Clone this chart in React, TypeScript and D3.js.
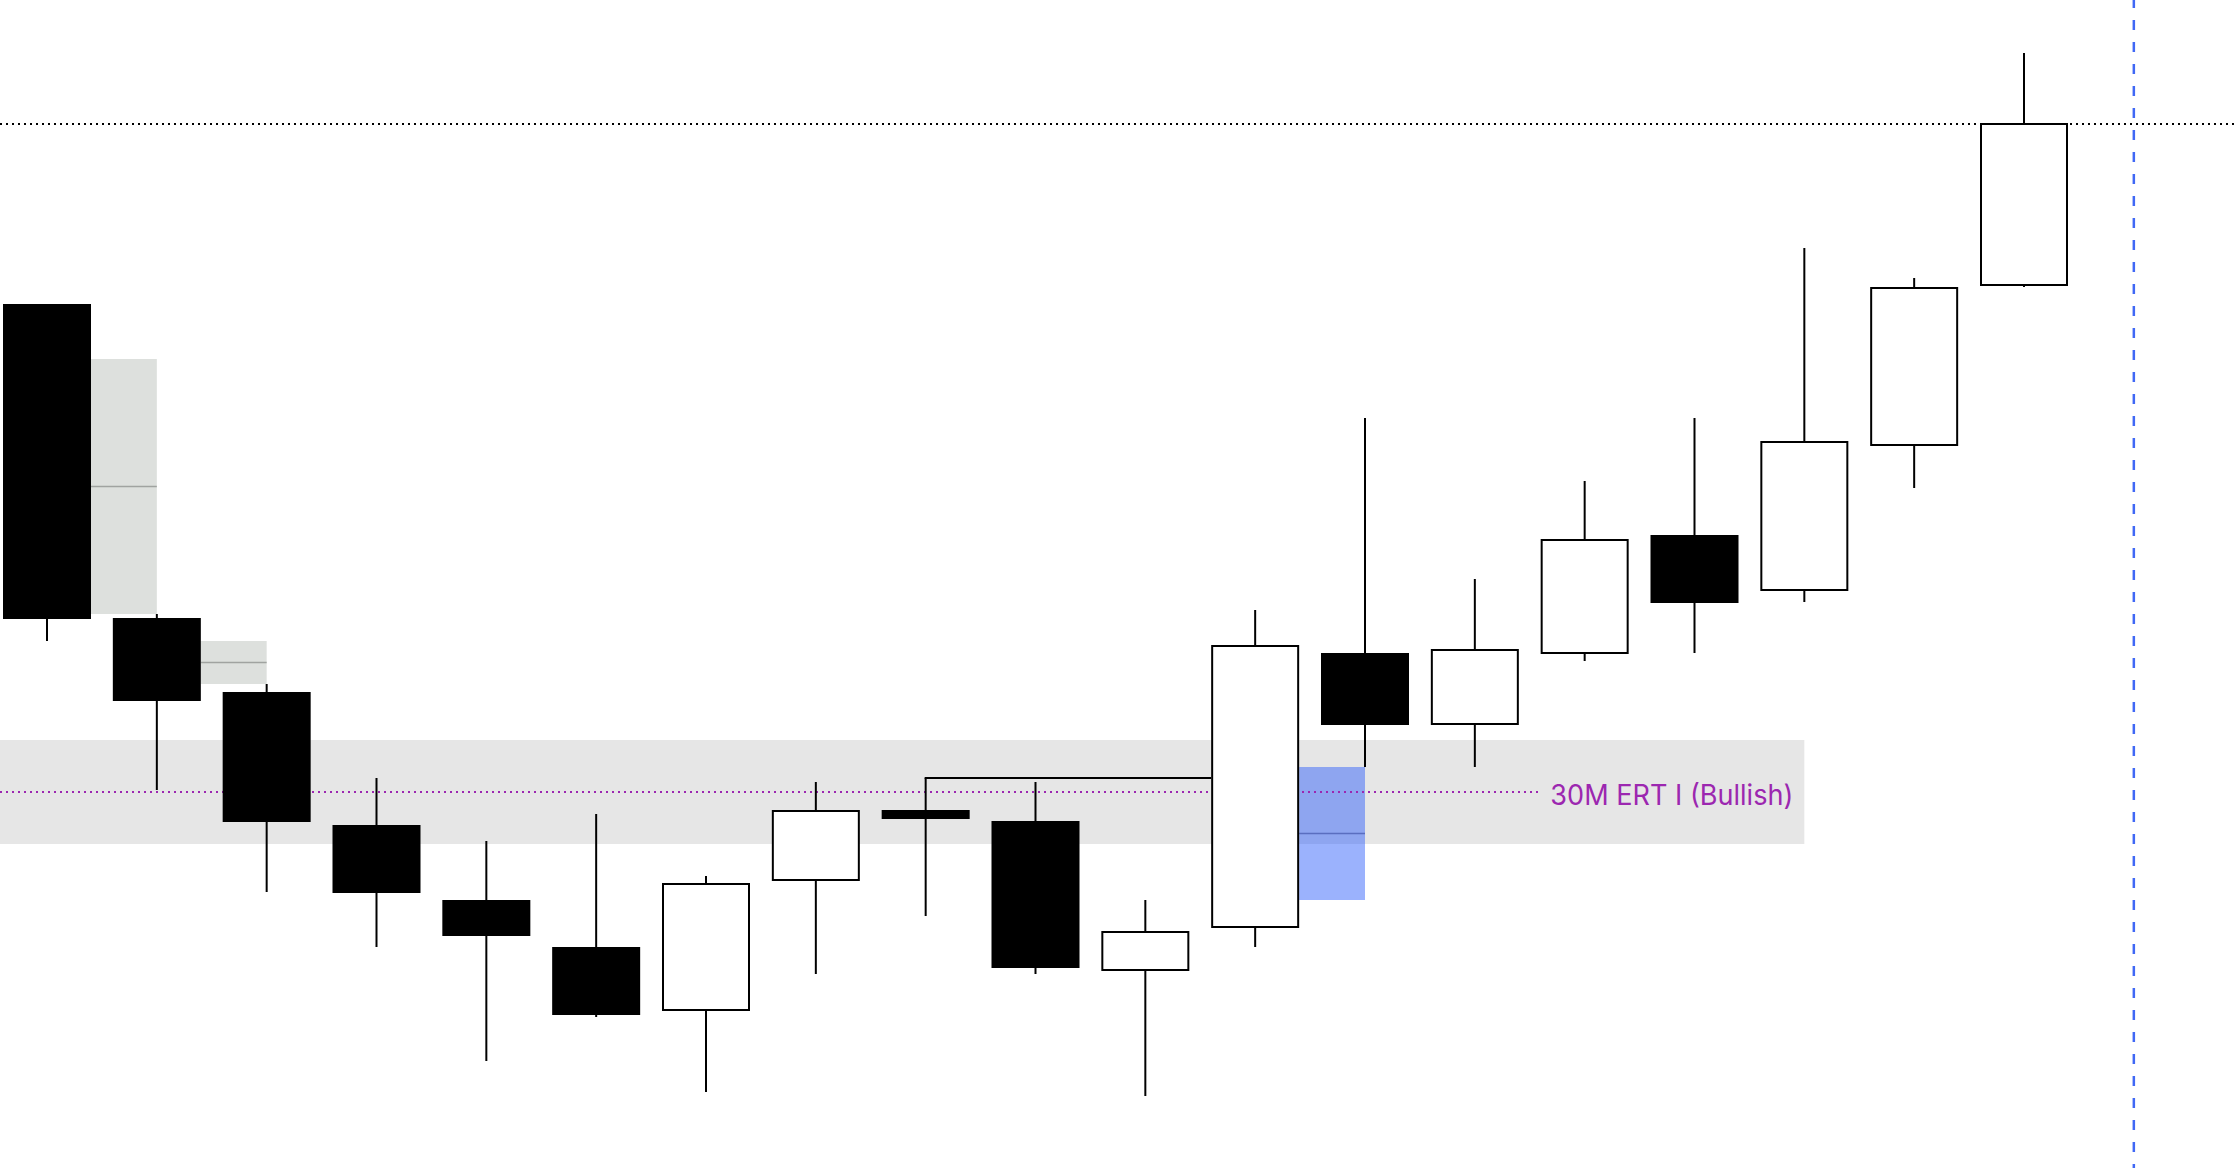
import React from "react";
import * as d3 from "d3";

// Price data (points above 18000 base)
const BASE = 18000;
const opens = [216, 137.5, 119, 85.75, 67, 55.25, 39.5, 72, 89.5, 86.75, 49.5, 60.25, 128.75, 111, 128.75, 158.25, 144.5, 180.75, 220.75];
const highs = [216, 138.5, 121, 97.5, 81.75, 88.5, 73, 96.5, 97.5, 96.5, 67, 139.5, 187.5, 147.25, 171.75, 187.5, 230, 222.5, 278.75];
const lows = [131.75, 94.5, 69, 55.25, 26.75, 37.75, 19, 48.5, 63, 48.5, 18, 55.25, 100.25, 100.25, 126.75, 128.75, 141.5, 170, 220.25];
const closes = [137.25, 116.75, 86.5, 68.75, 58, 38.25, 71, 89.25, 87.25, 50, 59, 130.5, 110.75, 129.5, 157, 141.25, 181.5, 220, 261];

// Imbalance boxes: [bar index, top, bottom]
const grayGapBars = [0, 1];
const grayGapTops = [202.25, 131.75];
const grayGapBottoms = [138.5, 121];
const blueGapBar = 11;
const blueGapTop = 100.25;
const blueGapBottom = 67;

// Zone
const zoneTop = 107;
const zoneBottom = 81;
const zoneEndBar = 16;
const zoneLabel = "30M ERT I (Bullish)";

// Levels
const highLevel = 261; // dotted black
const sweepStartBar = 8;
const sweepEndBar = 11;
const sweepLevel = 97.5;
const nowBar = 19;

const W = 2238;
const H = 1168;

export default function App() {
  const x = d3.scaleLinear().domain([0, 18]).range([47, 2024]);
  const y = d3.scaleLinear().domain([BASE, BASE + 292]).range([H, 0]);
  const bw = 88;
  const half = bw / 2;
  const zoneMid = (zoneTop + zoneBottom) / 2;
  const labelEnd = x(zoneEndBar) - 11;

  return (
    <svg width={W} height={H} style={{ position: "absolute", left: 0, top: 0, display: "block", background: "#fff" }}>
      {/* zone band */}
      <rect x={0} y={y(BASE + zoneTop)} width={x(zoneEndBar)} height={y(BASE + zoneBottom) - y(BASE + zoneTop)} fill="#e6e6e6" />
      {/* gray gaps */}
      {grayGapBars.map((b, i) => {
        const x0 = x(b) + half;
        const x1 = x(b + 1);
        const t = y(BASE + grayGapTops[i]);
        const bt = y(BASE + grayGapBottoms[i]);
        const m = y(BASE + (grayGapTops[i] + grayGapBottoms[i]) / 2);
        return (
          <g key={"gg" + i}>
            <rect x={x0} y={t} width={x1 - x0} height={bt - t} fill="#dde0dd" />
            <line x1={x0} x2={x1} y1={m} y2={m} stroke="#a0a3a0" strokeWidth={1.5} />
          </g>
        );
      })}
      {/* blue gap */}
      {(() => {
        const x0 = x(blueGapBar) + half;
        const x1 = x(blueGapBar + 1);
        const t = y(BASE + blueGapTop);
        const bt = y(BASE + blueGapBottom);
        const m = y(BASE + (blueGapTop + blueGapBottom) / 2);
        return (
          <g>
            <rect x={x0} y={t} width={x1 - x0} height={bt - t} fill="rgba(45,95,250,0.48)" />
            <line x1={x0} x2={x1} y1={m} y2={m} stroke="#5a6ec0" strokeWidth={1.5} />
          </g>
        );
      })()}
      {/* purple dotted mid line */}
      <line x1={0} x2={labelEnd - 255} y1={y(BASE + zoneMid)} y2={y(BASE + zoneMid)} stroke="#9c27b0" strokeWidth={2} strokeDasharray="2 4" />
      {/* black dotted high level */}
      <line x1={0} x2={W} y1={y(BASE + highLevel)} y2={y(BASE + highLevel)} stroke="#000" strokeWidth={2} strokeDasharray="2 4" />
      {/* blue dashed vertical */}
      <line x1={x(nowBar)} x2={x(nowBar)} y1={0} y2={H} stroke="#4068f5" strokeWidth={2.5} strokeDasharray="10 12" strokeDashoffset={2} />
      {/* sweep line */}
      <line x1={x(sweepStartBar) - 1} x2={x(sweepEndBar) - half} y1={y(BASE + sweepLevel)} y2={y(BASE + sweepLevel)} stroke="#000" strokeWidth={2} />
      {/* candles */}
      {opens.map((o, i) => {
        const cx = x(i);
        const bull = closes[i] >= o;
        const top = y(BASE + Math.max(o, closes[i]));
        const bot = y(BASE + Math.min(o, closes[i]));
        return (
          <g key={"c" + i}>
            <line x1={cx} x2={cx} y1={y(BASE + highs[i])} y2={y(BASE + lows[i])} stroke="#000" strokeWidth={2} />
            {bull ? (
              <rect x={cx - half + 1} y={top} width={bw - 2} height={bot - top} fill="#fff" stroke="#000" strokeWidth={2} />
            ) : (
              <rect x={cx - half} y={top} width={bw} height={bot - top} fill="#000" />
            )}
          </g>
        );
      })}
      {/* label */}
      <text x={labelEnd} y={y(BASE + zoneMid) + 13} textAnchor="end" fill="#9c27b0" fontFamily="Inter, 'Noto Sans', sans-serif" fontSize={28} textLength={243} lengthAdjust="spacingAndGlyphs">
        {zoneLabel}
      </text>
    </svg>
  );
}
